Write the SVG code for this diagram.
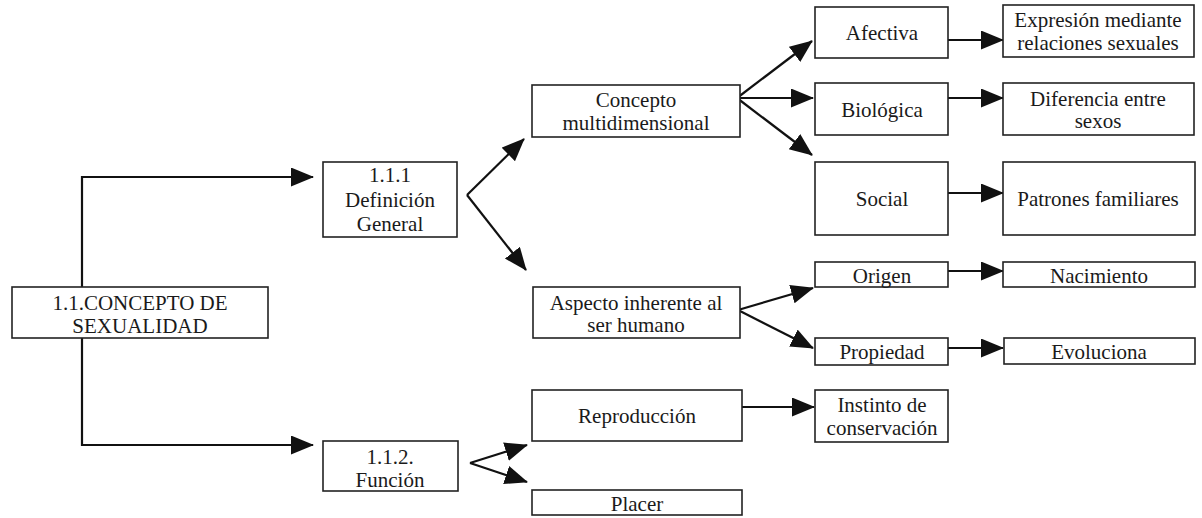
<svg xmlns="http://www.w3.org/2000/svg" width="1202" height="518" viewBox="0 0 1202 518">
<style>
.box{fill:#fff;stroke:#222;stroke-width:1.6}
.t{font-family:"Liberation Serif","DejaVu Serif",serif;font-size:21px;fill:#1a1a1a;text-anchor:middle}
.c{fill:none;stroke:#111;stroke-width:2.2}
</style>
<defs>
<marker id="ah" markerUnits="userSpaceOnUse" markerWidth="26" markerHeight="22" refX="22" refY="9.5" orient="auto">
<path d="M0,0 L23,9.5 L0,19 z" fill="#111"/>
</marker>
</defs>
<rect width="1202" height="518" fill="#fff"/>
<g id="connectors">
<path class="c" d="M82,287 V177 H313" marker-end="url(#ah)"/>
<path class="c" d="M82,338 V445 H313" marker-end="url(#ah)"/>
<path class="c" d="M467,195 L524,139" marker-end="url(#ah)"/>
<path class="c" d="M467,195 L526,270" marker-end="url(#ah)"/>
<path class="c" d="M737,98 L812,41" marker-end="url(#ah)"/>
<path class="c" d="M737,98 L813,98" marker-end="url(#ah)"/>
<path class="c" d="M737,98 L812,155" marker-end="url(#ah)"/>
<path class="c" d="M948,40 L1003,40" marker-end="url(#ah)"/>
<path class="c" d="M948,98 L1003,98" marker-end="url(#ah)"/>
<path class="c" d="M948,193 L1003,193" marker-end="url(#ah)"/>
<path class="c" d="M738,310 L813,288" marker-end="url(#ah)"/>
<path class="c" d="M738,310 L813,348" marker-end="url(#ah)"/>
<path class="c" d="M948,271 L1003,271" marker-end="url(#ah)"/>
<path class="c" d="M948,348 L1003,348" marker-end="url(#ah)"/>
<path class="c" d="M742,407 L814,407" marker-end="url(#ah)"/>
<path class="c" d="M470,463 L527,445" marker-end="url(#ah)"/>
<path class="c" d="M470,463 L527,482" marker-end="url(#ah)"/>
</g>
<g id="n-concepto">
<rect class="box" x="12" y="287" width="256" height="51"/>
<text class="t" x="140" y="310">1.1.CONCEPTO DE</text>
<text class="t" x="140" y="333">SEXUALIDAD</text>
</g>
<g id="n-definicion">
<rect class="box" x="323" y="162" width="134" height="75"/>
<text class="t" x="390" y="182">1.1.1</text>
<text class="t" x="390" y="207">Definición</text>
<text class="t" x="390" y="231">General</text>
</g>
<g id="n-funcion">
<rect class="box" x="323" y="441" width="135" height="50"/>
<text class="t" x="390" y="464">1.1.2.</text>
<text class="t" x="390" y="487">Función</text>
</g>
<g id="n-multidimensional">
<rect class="box" x="532" y="85" width="208" height="52"/>
<text class="t" x="636" y="107">Concepto</text>
<text class="t" x="636" y="130">multidimensional</text>
</g>
<g id="n-aspecto">
<rect class="box" x="533" y="287" width="207" height="51"/>
<text class="t" x="636" y="310">Aspecto inherente al</text>
<text class="t" x="636" y="332">ser humano</text>
</g>
<g id="n-reproduccion">
<rect class="box" x="532" y="390" width="210" height="51"/>
<text class="t" x="637" y="423">Reproducción</text>
</g>
<g id="n-placer">
<rect class="box" x="532" y="490" width="210" height="25"/>
<text class="t" x="637" y="511">Placer</text>
</g>
<g id="n-afectiva">
<rect class="box" x="815" y="7" width="133" height="51"/>
<text class="t" x="882" y="40">Afectiva</text>
</g>
<g id="n-biologica">
<rect class="box" x="815" y="83" width="133" height="52"/>
<text class="t" x="882" y="117">Biológica</text>
</g>
<g id="n-social">
<rect class="box" x="815" y="162" width="133" height="73"/>
<text class="t" x="882" y="206">Social</text>
</g>
<g id="n-origen">
<rect class="box" x="815" y="262" width="133" height="25"/>
<text class="t" x="882" y="283">Origen</text>
</g>
<g id="n-propiedad">
<rect class="box" x="815" y="338" width="133" height="27"/>
<text class="t" x="882" y="359">Propiedad</text>
</g>
<g id="n-instinto">
<rect class="box" x="815" y="390" width="133" height="52"/>
<text class="t" x="882" y="412">Instinto de</text>
<text class="t" x="882" y="435">conservación</text>
</g>
<g id="n-expresion">
<rect class="box" x="1003" y="5" width="191" height="52"/>
<text class="t" x="1098" y="27">Expresión mediante</text>
<text class="t" x="1098" y="50">relaciones sexuales</text>
</g>
<g id="n-diferencia">
<rect class="box" x="1003" y="83" width="191" height="52"/>
<text class="t" x="1098" y="106">Diferencia entre</text>
<text class="t" x="1098" y="128">sexos</text>
</g>
<g id="n-patrones">
<rect class="box" x="1003" y="162" width="192" height="73"/>
<text class="t" x="1098" y="206">Patrones familiares</text>
</g>
<g id="n-nacimiento">
<rect class="box" x="1003" y="262" width="192" height="25"/>
<text class="t" x="1099" y="283">Nacimiento</text>
</g>
<g id="n-evoluciona">
<rect class="box" x="1004" y="338" width="191" height="26"/>
<text class="t" x="1099" y="359">Evoluciona</text>
</g>
</svg>
